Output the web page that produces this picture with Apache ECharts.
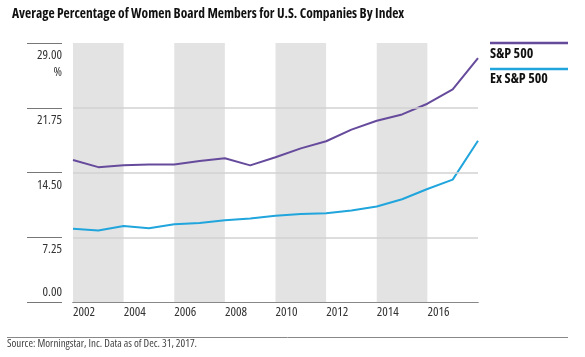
<!DOCTYPE html>
<html>
<head>
<meta charset="utf-8">
<script src="https://cdn.jsdelivr.net/npm/echarts@6/dist/echarts.min.js"></script>
<style>
html,body{margin:0;padding:0;background:#fff;}
#chart{width:585px;height:357px;}
</style>
</head>
<body>
<div id="chart"></div>
<script>
// Data (points at the start of each year, i.e. year-end values)
const periods = [2002, 2003, 2004, 2005, 2006, 2007, 2008, 2009, 2010, 2011, 2012, 2013, 2014, 2015, 2016, 2017, 2018];
const sp500 = [15.9, 15.1, 15.3, 15.4, 15.4, 15.8, 16.1, 15.3, 16.2, 17.2, 18.0, 19.3, 20.3, 21.0, 22.2, 23.8, 27.3];
const exSp500 = [8.2, 8.0, 8.5, 8.25, 8.7, 8.85, 9.15, 9.35, 9.65, 9.85, 9.95, 10.25, 10.7, 11.5, 12.65, 13.7, 18.05];
const seriesNames = ['S&P 500', 'Ex S&P 500'];
const yTicks = [0, 7.25, 14.5, 21.75, 29];
const title = 'Average Percentage of Women Board Members for U.S. Companies By Index';
const source = 'Source: Morningstar, Inc. Data as of Dec. 31, 2017.';

const FAM = "'Open Sans'";
const COND = 'condensed';
const PURPLE = '#664a9c';
const BLUE = '#20a5dc';

const chart = echarts.init(document.getElementById('chart'), null, {renderer: 'canvas'});
const yMin = yTicks[0], yMax = yTicks[yTicks.length - 1], yInt = yTicks[1] - yTicks[0];
const lastP = periods[periods.length - 1];

chart.setOption({
  animation: false,
  backgroundColor: '#fff',
  textStyle: {fontFamily: FAM, fontStyle: COND},
  title: {
    text: title,
    left: 7, top: 2,
    textStyle: {fontFamily: FAM, fontStyle: COND, fontWeight: 'bold', fontSize: 13.5, color: '#111'}
  },
  grid: {left: 73, right: 107, top: 43, bottom: 55, containLabel: false},
  xAxis: [
    {
      type: 'value',
      min: periods[0], max: lastP, interval: 2,
      axisLine: {show: true, lineStyle: {color: '#666', width: 1}},
      axisTick: {show: false},
      splitLine: {show: false},
      splitArea: {show: true, areaStyle: {color: ['rgba(0,0,0,0.11)', 'rgba(0,0,0,0)']}},
      axisLabel: {
        show: true, align: 'left', margin: 4, fontSize: 13, color: '#333', fontFamily: FAM, fontStyle: COND,
        formatter: v => (v >= lastP ? '' : String(v))
      }
    },
    {
      type: 'value', position: 'top',
      min: periods[0], max: lastP, interval: 2,
      axisLine: {show: true, lineStyle: {color: '#888', width: 1}},
      axisTick: {show: false}, axisLabel: {show: false},
      splitLine: {show: false}, splitArea: {show: false}
    }
  ],
  yAxis: [
    {
      type: 'value', min: yMin, max: yMax, interval: yInt, position: 'left', offset: 11,
      axisLine: {show: false},
      axisTick: {show: true, length: 35, lineStyle: {color: '#777', width: 1}},
      splitLine: {show: false},
      axisLabel: {
        show: true, margin: 0, align: 'right', verticalAlign: 'top', padding: [4, 0, 0, 0],
        fontSize: 13, lineHeight: 17, color: '#333', fontFamily: FAM, fontStyle: COND,
        formatter: v => (v === yMin ? '' : (v === yMax ? v.toFixed(2) + '\n%' : v.toFixed(2)))
      }
    },
    {
      type: 'value', min: yMin, max: yMax, interval: yInt, position: 'left', offset: 11,
      axisLine: {show: false}, axisTick: {show: false}, splitLine: {show: false},
      axisLabel: {
        show: true, margin: 0, align: 'right', verticalAlign: 'bottom', padding: [0, 0, 1, 0],
        fontSize: 13, lineHeight: 17, color: '#333', fontFamily: FAM, fontStyle: COND,
        formatter: v => (v === yMin ? v.toFixed(2) : '')
      }
    }
  ],
  series: [
    {
      name: seriesNames[0], type: 'line', xAxisIndex: 0, yAxisIndex: 0, symbol: 'none', z: 4,
      lineStyle: {color: PURPLE, width: 2}, itemStyle: {color: PURPLE},
      data: periods.map((p, i) => [p, sp500[i]])
    },
    {
      name: seriesNames[1], type: 'line', xAxisIndex: 0, yAxisIndex: 0, symbol: 'none', z: 3,
      lineStyle: {color: BLUE, width: 2}, itemStyle: {color: BLUE},
      data: periods.map((p, i) => [p, exSp500[i]]),
      markLine: {
        silent: true, animation: false, symbol: ['none', 'none'],
        label: {show: false},
        lineStyle: {color: '#d2d2d2', type: 'solid', width: 1.5},
        emphasis: {disabled: true},
        data: yTicks.slice(1, -1).map(v => ({yAxis: v}))
      }
    }
  ],
  graphic: [
    {type: 'line', shape: {x1: 490, y1: 43, x2: 568, y2: 43}, style: {stroke: PURPLE, lineWidth: 2.5}},
    {type: 'text', left: 490, top: 47, style: {text: seriesNames[0], font: COND + " bold 14px " + FAM, fill: '#111'}},
    {type: 'line', shape: {x1: 490, y1: 69, x2: 568, y2: 69}, style: {stroke: BLUE, lineWidth: 2.5}},
    {type: 'text', left: 490, top: 72, style: {text: seriesNames[1], font: COND + " bold 14px " + FAM, fill: '#111'}},
    {type: 'line', shape: {x1: 7, y1: 337.5, x2: 568, y2: 337.5}, style: {stroke: '#888', lineWidth: 1}},
    {type: 'text', left: 7, top: 338, style: {text: source, font: COND + " 11px " + FAM, fill: '#444'}}
  ]
});
</script>
</body>
</html>
